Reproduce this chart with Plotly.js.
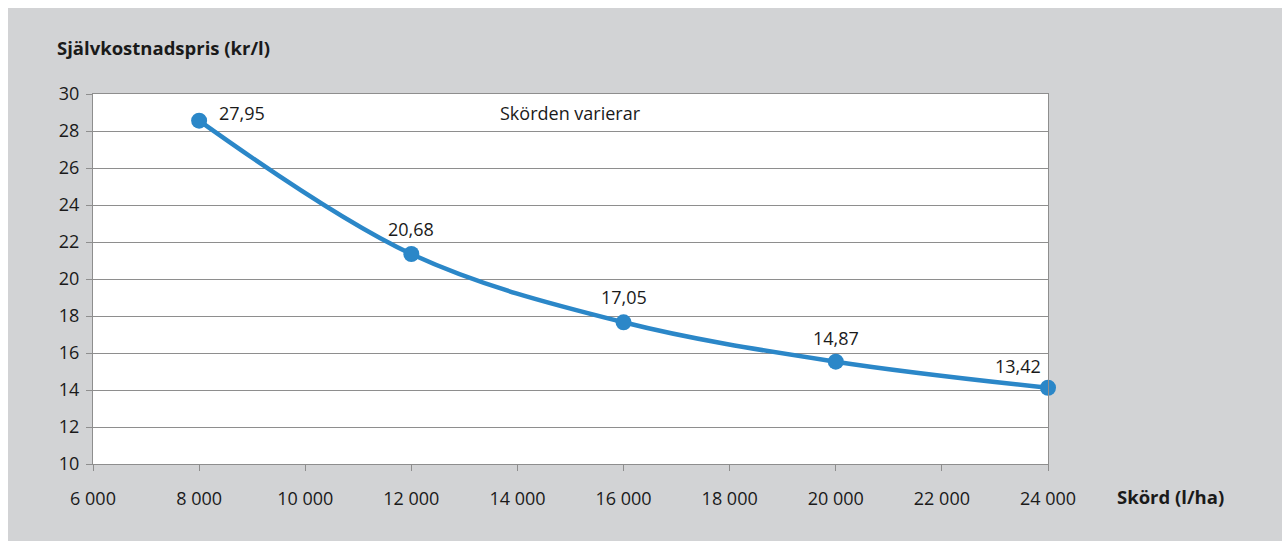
<!DOCTYPE html>
<html>
<head>
<meta charset="utf-8">
<script src="https://cdn.plot.ly/plotly-3.0.1.min.js"></script>
<style>
html,body{margin:0;padding:0;background:#ffffff;}
#chart{position:absolute;left:8px;top:8px;width:1274px;height:533px;}
</style>
</head>
<body>
<div id="chart"></div>
<script>
const yields = [8000, 12000, 16000, 20000, 24000];
const costs = [28.56, 21.35, 17.66, 15.53, 14.12];
const labels = ["27,95", "20,68", "17,05", "14,87", "13,42"];
const xTicks = [6000, 8000, 10000, 12000, 14000, 16000, 18000, 20000, 22000, 24000];
const yTicks = [10, 12, 14, 16, 18, 20, 22, 24, 26, 28, 30];

const FONT = "Open Sans, Noto Sans, sans-serif";
const BLUE = "#2b87c8";
const GRID = "#8e8e8e";
const TXT = "#1a1a1a";
const FS = 18;

const labelPos = [
  {xanchor: "left", xshift: 18, yshift: 8},
  {xanchor: "center", xshift: 0, yshift: 25},
  {xanchor: "center", xshift: 0, yshift: 25},
  {xanchor: "center", xshift: 0, yshift: 24},
  {xanchor: "right", xshift: -5, yshift: 22}
];

const annotations = yields.map((x, i) => ({
  x: x, y: costs[i], xref: "x", yref: "y",
  text: labels[i], showarrow: false,
  xanchor: labelPos[i].xanchor, yanchor: "middle",
  xshift: labelPos[i].xshift, yshift: labelPos[i].yshift,
  font: {family: FONT, size: FS, color: TXT}
}));

annotations.push({
  x: 15000, y: 28.97, xref: "x", yref: "y",
  text: "Skörden varierar", showarrow: false,
  xanchor: "center", yanchor: "middle",
  font: {family: FONT, size: FS, color: TXT}
});
annotations.push({
  x: -0.04, y: 1.127, xref: "paper", yref: "paper",
  text: "<b>Självkostnadspris (kr/l)</b>", showarrow: false,
  xanchor: "left", yanchor: "middle",
  font: {family: FONT, size: 18.5, color: TXT}
});
annotations.push({
  x: 1.07, y: -0.089, xref: "paper", yref: "paper",
  text: "<b>Skörd (l/ha)</b>", showarrow: false,
  xanchor: "left", yanchor: "middle",
  font: {family: FONT, size: 18.5, color: TXT}
});

const trace = {
  x: yields, y: costs, type: "scatter", mode: "lines+markers",
  line: {color: BLUE, width: 4.5, shape: "spline", smoothing: 1},
  marker: {color: BLUE, size: 16},
  hoverinfo: "skip",
  cliponaxis: false
};

const layout = {
  width: 1274, height: 533,
  paper_bgcolor: "#d2d3d5", plot_bgcolor: "#ffffff",
  margin: {l: 85, r: 234, t: 86, b: 77},
  showlegend: false,
  separators: ", ",
  font: {family: FONT, size: FS, color: TXT},
  xaxis: {
    range: [6000, 24000], tickvals: xTicks, tickformat: ",d",
    showgrid: false, zeroline: false,
    showline: true, linecolor: GRID, linewidth: 1, mirror: true,
    ticks: "outside", ticklen: 6, tickcolor: GRID,
    ticklabelstandoff: 12,
    tickfont: {family: FONT, size: FS, color: TXT}
  },
  yaxis: {
    range: [10, 30], tickvals: yTicks,
    showgrid: true, gridcolor: GRID, gridwidth: 1, zeroline: false,
    showline: true, linecolor: GRID, linewidth: 1, mirror: true,
    ticks: "outside", ticklen: 6, tickcolor: GRID,
    ticklabelstandoff: 3,
    tickfont: {family: FONT, size: FS, color: TXT}
  },
  annotations: annotations
};

Plotly.newPlot("chart", [trace], layout, {displayModeBar: false, staticPlot: true});
</script>
</body>
</html>
